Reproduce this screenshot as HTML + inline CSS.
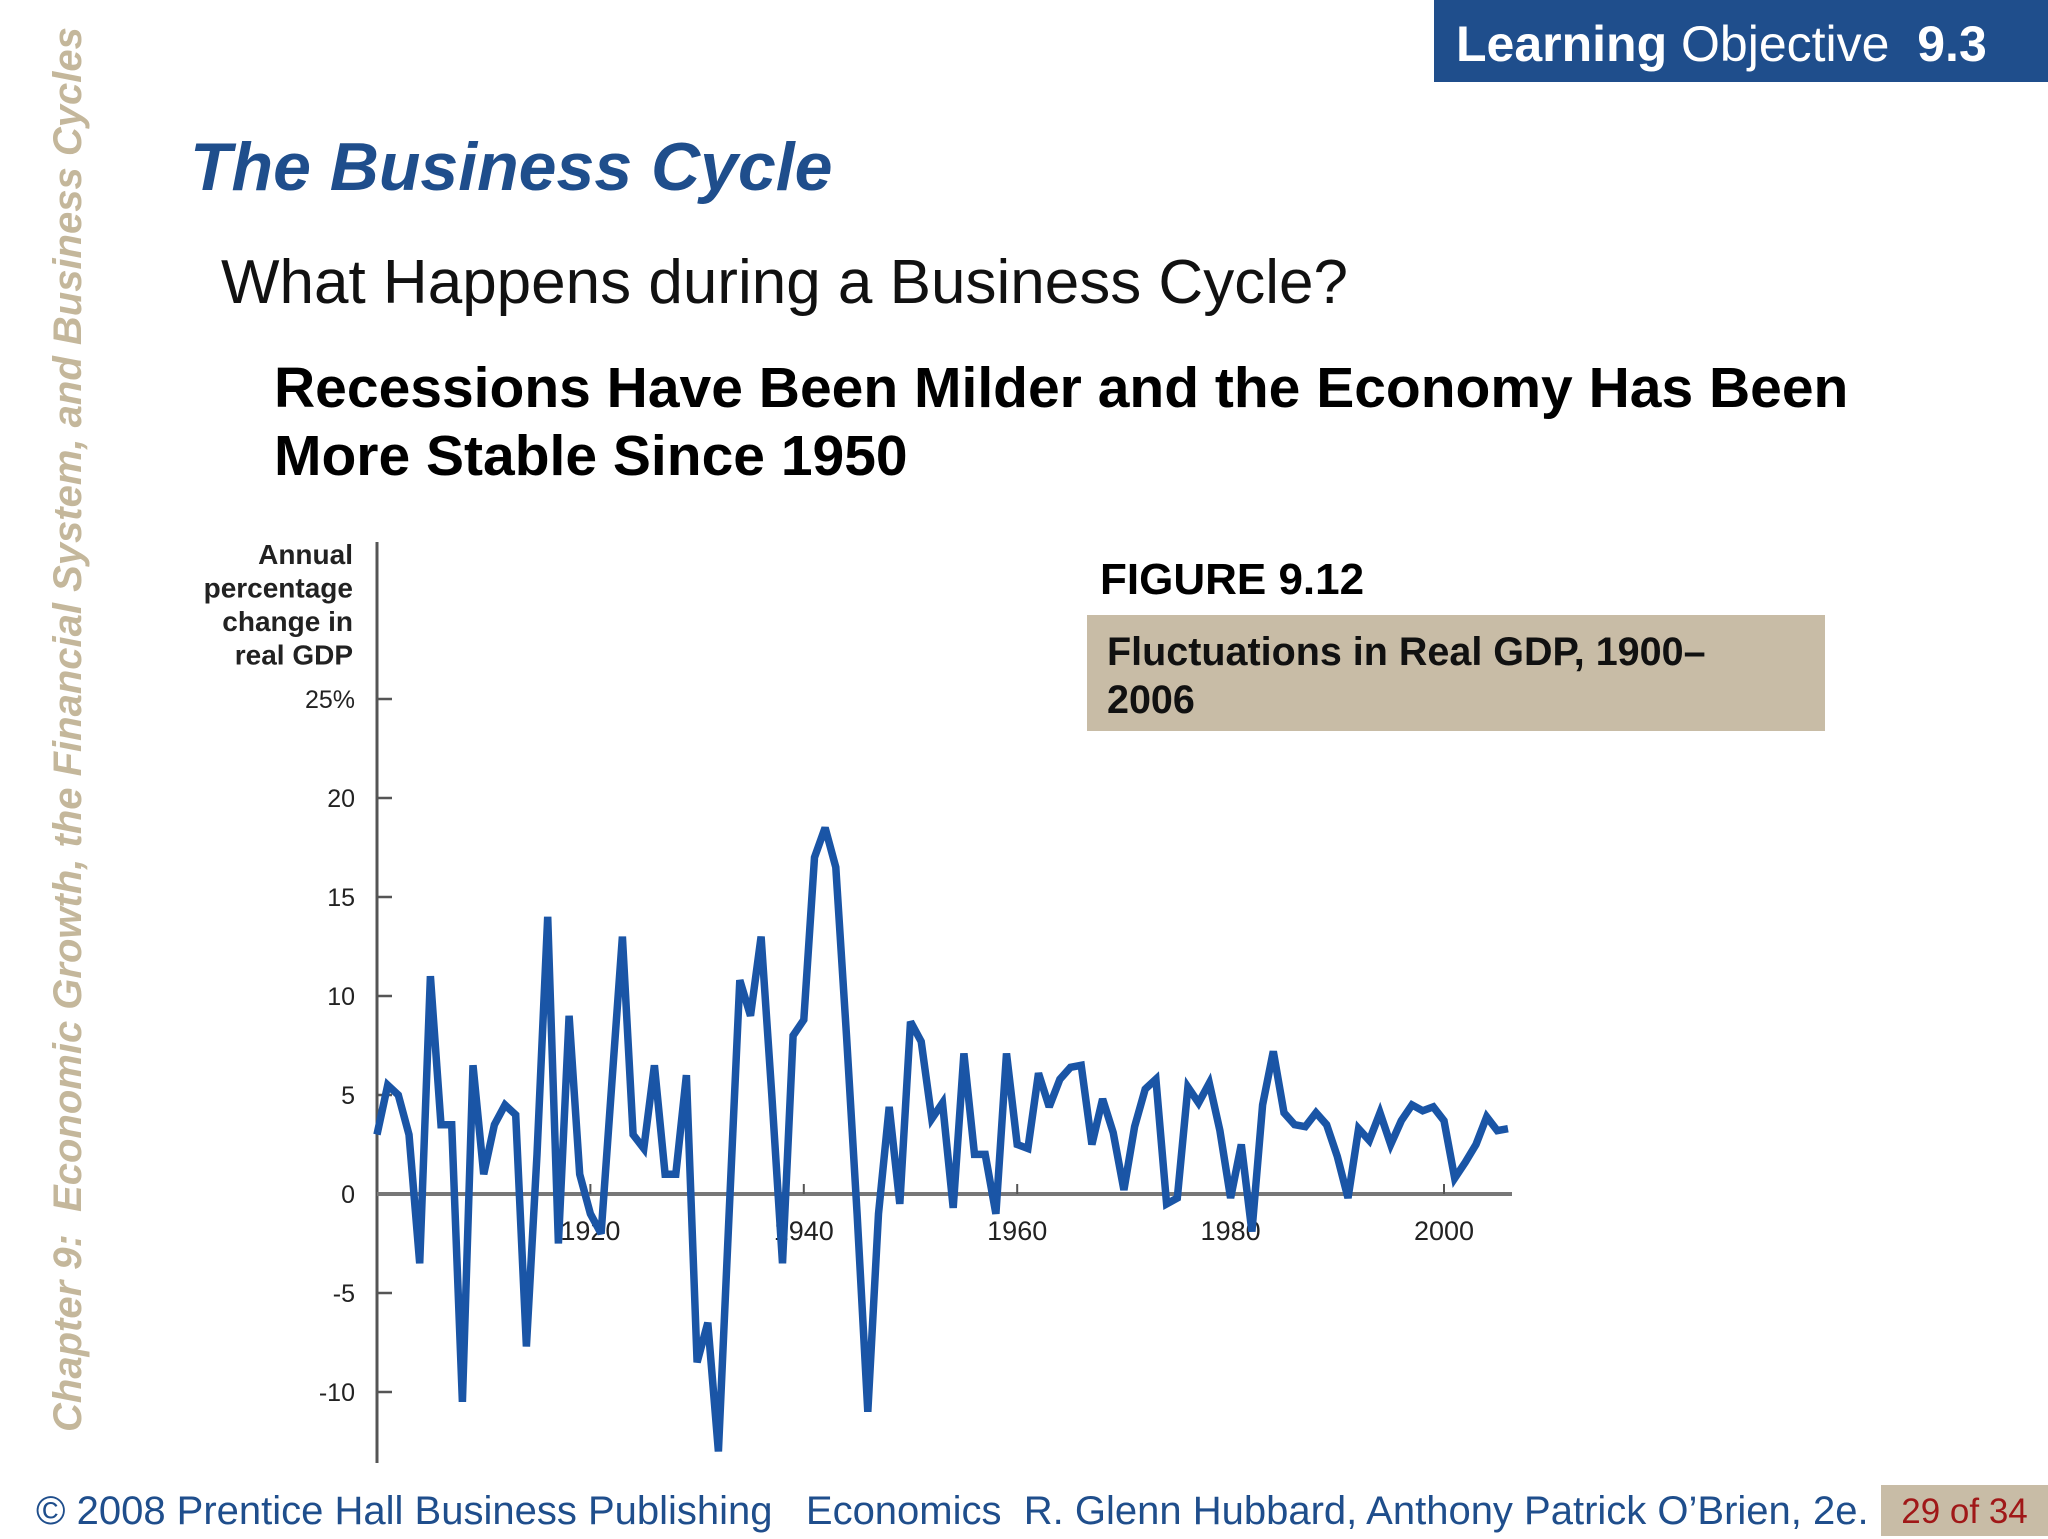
<!DOCTYPE html>
<html><head><meta charset="utf-8"><style>
body{margin:0;width:2048px;height:1536px;background:#fff;position:relative;overflow:hidden;font-family:"Liberation Sans",sans-serif}
.a{position:absolute;white-space:nowrap}
</style></head><body>
<div class="a" style="left:1434px;top:0;width:614px;height:82px;background:#1f4e8c;color:#fff;font-size:50px;line-height:88px;padding-left:22px;box-sizing:border-box"><b>Learning</b> Objective&nbsp; <b>9.3</b></div>
<div class="a" style="left:190px;top:128px;font-size:68px;font-weight:bold;font-style:italic;color:#1f4e8c">The Business Cycle</div>
<div class="a" style="left:221px;top:247px;font-size:62px;color:#111">What Happens during a Business Cycle?</div>
<div class="a" style="left:274px;top:354px;font-size:57px;font-weight:bold;line-height:68px;color:#000">Recessions Have Been Milder and the Economy Has Been<br>More Stable Since 1950</div>
<div class="a" style="left:46px;top:1432px;transform-origin:0 0;transform:rotate(-90deg);font-size:40px;font-weight:bold;font-style:italic;color:#c4b79b">Chapter 9:&nbsp; Economic Growth, the Financial System, and Business Cycles</div>
<div class="a" style="left:1100px;top:555px;font-size:44px;font-weight:bold;color:#000">FIGURE 9.12</div>
<div class="a" style="left:1087px;top:615px;width:738px;height:116px;background:#c8bca6;font-size:39.5px;font-weight:bold;line-height:48px;padding:13px 0 0 20px;box-sizing:border-box;color:#111">Fluctuations in Real GDP, 1900–<br>2006</div>
<div class="a" style="left:36px;top:1489px;font-size:40px;color:#1f4e8c">© 2008 Prentice Hall Business Publishing&nbsp;&nbsp; Economics&nbsp; R. Glenn Hubbard, Anthony Patrick O’Brien, 2e.</div>
<div class="a" style="left:1881px;top:1485px;width:167px;height:51px;background:#c8bca6;color:#a01818;font-size:35px;line-height:54px;text-align:center">29 of 34</div>
<svg class="a" style="left:0;top:0" width="2048" height="1536">
<g id="g"></g></svg>
<script>
const years=[];for(let y=1900;y<=2006;y++)years.push(y);
const gdpGrowth=[3,5.5,5,3,-3.5,11,3.5,3.5,-10.5,6.5,1,3.5,4.5,4,-7.7,2,14,-2.5,9,1,-1,-2,5.5,13,3,2.3,6.5,1,1,6,-8.5,-6.5,-13,-1,10.8,9,13,5,-3.5,8,8.8,17,18.5,16.5,8,-1,-11,-1,4.4,-0.5,8.7,7.7,3.8,4.6,-0.7,7.1,2,2,-1,7.1,2.5,2.3,6.1,4.4,5.8,6.4,6.5,2.5,4.8,3.1,0.2,3.4,5.3,5.8,-0.5,-0.2,5.4,4.6,5.6,3.2,-0.2,2.5,-1.9,4.5,7.2,4.1,3.5,3.4,4.1,3.5,1.9,-0.2,3.3,2.7,4.1,2.5,3.7,4.5,4.2,4.4,3.7,0.8,1.6,2.5,3.9,3.2,3.3];
const yTicks=[25,20,15,10,5,0,-5,-10];
const yTickLabels=["25%","20","15","10","5","0","-5","-10"];
const xTicks=[1920,1940,1960,1980,2000];
const axisTitle=["Annual","percentage","change in","real GDP"];
const X=y=>377+(y-1900)*10.67, Y=v=>1194-v*19.8;
const g=document.getElementById('g'),NS='http://www.w3.org/2000/svg';
function mk(t,a){const e=document.createElementNS(NS,t);for(const k in a)e.setAttribute(k,a[k]);g.appendChild(e);return e;}
let e=mk('line',{x1:377,y1:542,x2:377,y2:1463,stroke:'#555','stroke-width':3});


yTicks.forEach((v,i)=>{
 let t=mk('line',{x1:377,x2:392,y1:Y(v),y2:Y(v),stroke:'#555','stroke-width':2.5});
 
 
 let l=mk('text',{x:355,y:Y(v)+9,'text-anchor':'end','font-size':25,fill:'#222'});l.textContent=yTickLabels[i];
 
 
});
axisTitle.forEach((s,i)=>{let l=mk('text',{x:353,y:564+i*33.5,'text-anchor':'end','font-size':28,'font-weight':'bold',fill:'#222'});l.textContent=s;
 
 });
e=mk('line',{x1:377,y1:Y(0),x2:1512,y2:Y(0),stroke:'#777','stroke-width':4});


xTicks.forEach(y=>{
 let t=mk('line',{x1:X(y),x2:X(y),y1:Y(0),y2:Y(0)-10,stroke:'#555','stroke-width':2});
 
 
 let l=mk('text',{x:X(y),y:1240,'text-anchor':'middle','font-size':27,fill:'#222'});l.textContent=y;
 
 
});
const pts=years.map((y,i)=>X(y).toFixed(1)+','+Y(gdpGrowth[i]).toFixed(1)).join(' ');
e=mk('polyline',{points:pts,fill:'none',stroke:'#1a55a6','stroke-width':7.5,'stroke-linejoin':'miter','stroke-miterlimit':3});


</script>
</body></html>
